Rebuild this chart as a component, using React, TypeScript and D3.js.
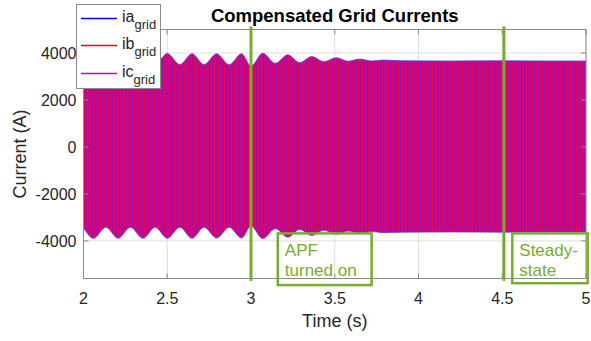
import React from "react";
import * as d3 from "d3";

const W = 591;
const H = 341;

// axis ticks
const xTicks = [2, 2.5, 3, 3.5, 4, 4.5, 5];
const yTicks = [-4000, -2000, 0, 2000, 4000];

// envelope of the three phase currents (A)
const envTime = [2.0, 2.06, 2.133, 2.207, 2.28, 2.355, 2.428, 2.5, 2.575, 2.648, 2.72, 2.795, 2.87, 2.944, 3.0, 3.07, 3.145, 3.22, 3.29, 3.363, 3.435, 3.51, 3.58, 3.65, 3.72, 3.79, 3.9, 4.2, 4.5, 4.8, 5.0];
const envUpper = [3520, 3960, 3510, 3960, 3510, 3960, 3510, 3980, 3510, 3970, 3510, 3970, 3500, 3970, 3440, 3990, 3560, 3920, 3590, 3850, 3630, 3800, 3650, 3740, 3660, 3700, 3670, 3660, 3670, 3660, 3660];
const envLower = [-3430, -3890, -3420, -3890, -3420, -3890, -3420, -3890, -3420, -3890, -3420, -3880, -3420, -3880, -3370, -3900, -3480, -3840, -3510, -3770, -3550, -3720, -3580, -3680, -3600, -3650, -3630, -3620, -3630, -3620, -3620];

const seriesNames = ["ia", "ib", "ic"];
const seriesColors = ["#0000FF", "#FF0000", "#BF00BF"];

// green markers and text boxes
const eventTimes = [3.0, 4.51];
const noteLines = [["APF", "turned on"], ["Steady-", "state"]];
const noteSpans = [[3.16, 3.72, -3680, -5880], [4.56, 5.01, -3680, -5800]];

const FONT = "'Liberation Sans', Arial, Helvetica, sans-serif";
const GREEN = "#77AC30";
const AXIS = "#8a8a8a";
const TEXT = "#262626";

export default function App() {
  const x = d3.scaleLinear().domain([2, 5]).range([83.5, 586]);
  const y = d3.scaleLinear().domain([-5600, 5000]).range([278.5, 29.5]);
  const [x0, x1] = x.range();
  const [yb, yt] = y.range();

  const idx = d3.range(envTime.length);
  const band = d3
    .area<number>()
    .x((i) => x(envTime[i]))
    .y0((i) => y(envLower[i]))
    .y1((i) => y(envUpper[i]))
    .curve(d3.curveMonotoneX);
  const top = d3
    .line<number>()
    .x((i) => x(envTime[i]))
    .y((i) => y(envUpper[i]))
    .curve(d3.curveMonotoneX);
  const bottom = d3
    .line<number>()
    .x((i) => x(envTime[i]))
    .y((i) => y(envLower[i]))
    .curve(d3.curveMonotoneX);

  // one 50 Hz cycle in pixels
  const cyc = x(2.02) - x(2.0);
  const tick = 5;

  return (
    <svg width={W} height={H} style={{ position: "absolute", left: 0, top: 0, background: "#fff" }} fontFamily={FONT}>
      <defs>
        <pattern id="wave" patternUnits="userSpaceOnUse" x={x0} y={0} width={cyc} height={H}>
          <rect x={0} y={0} width={cyc} height={H} fill="#D6007E" />
          <rect x={0} y={0} width={cyc * 0.3} height={H} fill="#FF0034" />
          <rect x={cyc * 0.6} y={0} width={cyc * 0.24} height={H} fill="#5A22EE" />
        </pattern>
      </defs>

      {/* grid */}
      {xTicks.map((t) => (
        <line key={"gx" + t} x1={x(t)} x2={x(t)} y1={yt} y2={yb} stroke="#dedede" strokeWidth={1} />
      ))}
      {yTicks.map((t) => (
        <line key={"gy" + t} x1={x0} x2={x1} y1={y(t)} y2={y(t)} stroke="#dedede" strokeWidth={1} />
      ))}

      {/* current waveforms */}
      <path d={band(idx) || ""} fill="url(#wave)" />
      <path d={top(idx) || ""} fill="none" stroke="#5B3BE8" strokeWidth={1} opacity={0.75} />
      <path d={bottom(idx) || ""} fill="none" stroke="#5B3BE8" strokeWidth={1} opacity={0.75} />

      {/* box and ticks */}
      <rect x={x0} y={yt} width={x1 - x0} height={yb - yt} fill="none" stroke={AXIS} strokeWidth={1} />
      {xTicks.map((t) => (
        <g key={"tx" + t}>
          <line x1={x(t)} x2={x(t)} y1={yb} y2={yb - tick} stroke={AXIS} />
          <line x1={x(t)} x2={x(t)} y1={yt} y2={yt + tick} stroke={AXIS} />
          <text x={x(t)} y={304} fontSize={16} fill={TEXT} textAnchor="middle">
            {t}
          </text>
        </g>
      ))}
      {yTicks.map((t) => (
        <g key={"ty" + t}>
          <line x1={x0} x2={x0 + tick} y1={y(t)} y2={y(t)} stroke={AXIS} />
          <line x1={x1} x2={x1 - tick} y1={y(t)} y2={y(t)} stroke={AXIS} />
          <text x={x0 - 7} y={y(t) + 6} fontSize={16} fill={TEXT} textAnchor="end">
            {t}
          </text>
        </g>
      ))}

      {/* labels */}
      <text x={(x0 + x1) / 2} y={22} fontSize={18.5} fontWeight="bold" fill="#000" textAnchor="middle">
        Compensated Grid Currents
      </text>
      <text x={(x0 + x1) / 2} y={327} fontSize={18} fill={TEXT} textAnchor="middle">
        Time (s)
      </text>
      <text transform={`translate(26,${(yt + yb) / 2}) rotate(-90)`} fontSize={18} fill={TEXT} textAnchor="middle">
        Current (A)
      </text>

      {/* event markers */}
      {eventTimes.map((t) => (
        <line key={"ev" + t} x1={x(t)} x2={x(t)} y1={y(5130)} y2={y(-5700)} stroke={GREEN} strokeWidth={3} />
      ))}
      {noteSpans.map((s, i) => (
        <g key={"note" + i}>
          <rect x={x(s[0])} y={y(s[2])} width={x(s[1]) - x(s[0])} height={y(s[3]) - y(s[2])} fill="none" stroke={GREEN} strokeWidth={2.5} />
          {noteLines[i].map((ln, j) => (
            <text key={j} x={x(s[0]) + 7} y={y(s[2]) + 23 + j * 20} fontSize={17} fill={GREEN}>
              {ln}
            </text>
          ))}
        </g>
      ))}

      {/* legend */}
      <rect x={76.5} y={4.5} width={84} height={84} fill="#fff" stroke={AXIS} strokeWidth={1} />
      {seriesNames.map((n, i) => {
        const ly = Math.round(18 + i * 27.3) + 0.5;
        return (
          <g key={n}>
            <line x1={81} x2={117} y1={ly} y2={ly} stroke={seriesColors[i]} strokeWidth={1.5} />
            <text x={122} y={ly + 3} fontSize={16} fill={TEXT}>
              {n}
              <tspan fontSize={13} dy={7}>
                grid
              </tspan>
            </text>
          </g>
        );
      })}
    </svg>
  );
}
